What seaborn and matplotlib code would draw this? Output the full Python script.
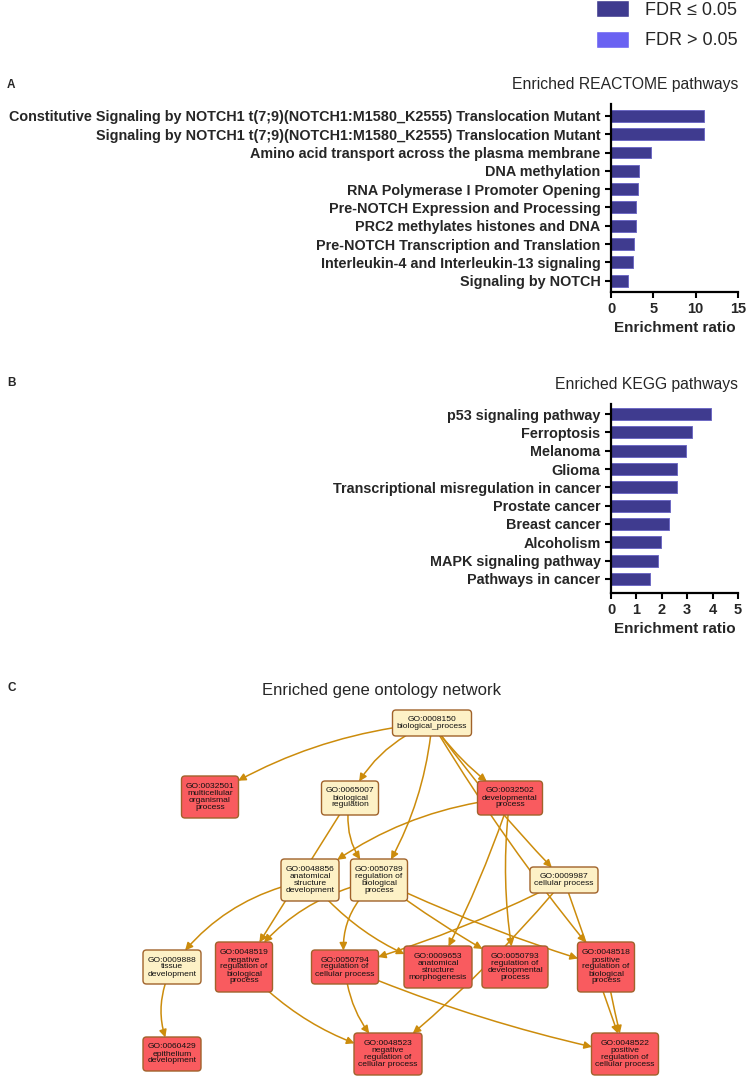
import matplotlib
matplotlib.use('Agg')
import matplotlib.pyplot as plt
from matplotlib.patches import FancyBboxPatch, FancyArrowPatch, Patch
import seaborn as sns
import pandas as pd

# ---- data ----
reactome_terms = [
    'Constitutive Signaling by NOTCH1 t(7;9)(NOTCH1:M1580_K2555) Translocation Mutant',
    'Signaling by NOTCH1 t(7;9)(NOTCH1:M1580_K2555) Translocation Mutant',
    'Amino acid transport across the plasma membrane',
    'DNA methylation',
    'RNA Polymerase I Promoter Opening',
    'Pre-NOTCH Expression and Processing',
    'PRC2 methylates histones and DNA',
    'Pre-NOTCH Transcription and Translation',
    'Interleukin-4 and Interleukin-13 signaling',
    'Signaling by NOTCH',
]
reactome_ratio = [11.0, 11.0, 4.67, 3.30, 3.14, 2.94, 2.90, 2.75, 2.55, 2.0]

kegg_terms = [
    'p53 signaling pathway',
    'Ferroptosis',
    'Melanoma',
    'Glioma',
    'Transcriptional misregulation in cancer',
    'Prostate cancer',
    'Breast cancer',
    'Alcoholism',
    'MAPK signaling pathway',
    'Pathways in cancer',
]
kegg_ratio = [3.93, 3.19, 2.96, 2.59, 2.59, 2.33, 2.30, 1.96, 1.87, 1.53]

go_ids = ['GO:0008150', 'GO:0032501', 'GO:0065007', 'GO:0032502', 'GO:0048856',
          'GO:0050789', 'GO:0009987', 'GO:0009888', 'GO:0048519', 'GO:0050794',
          'GO:0009653', 'GO:0050793', 'GO:0048518', 'GO:0060429', 'GO:0048523',
          'GO:0048522']
go_names = ['biological_process', 'multicellular\norganismal\nprocess',
            'biological\nregulation', 'developmental\nprocess',
            'anatomical\nstructure\ndevelopment', 'regulation of\nbiological\nprocess',
            'cellular process', 'tissue\ndevelopment',
            'negative\nregulation of\nbiological\nprocess',
            'regulation of\ncellular process',
            'anatomical\nstructure\nmorphogenesis',
            'regulation of\ndevelopmental\nprocess',
            'positive\nregulation of\nbiological\nprocess',
            'epithelium\ndevelopment',
            'negative\nregulation of\ncellular process',
            'positive\nregulation of\ncellular process']
go_enriched = [False, True, False, True, False, False, False, False, True, True,
               True, True, True, True, True, True]
go_edges = [
    ('GO:0008150', 'GO:0032501'), ('GO:0008150', 'GO:0065007'),
    ('GO:0008150', 'GO:0050789'), ('GO:0008150', 'GO:0032502'),
    ('GO:0008150', 'GO:0009987'), ('GO:0008150', 'GO:0048518'),
    ('GO:0065007', 'GO:0050789'), ('GO:0065007', 'GO:0048519'),
    ('GO:0032502', 'GO:0048856'), ('GO:0032502', 'GO:0009653'),
    ('GO:0032502', 'GO:0050793'), ('GO:0048856', 'GO:0009888'),
    ('GO:0048856', 'GO:0009653'), ('GO:0050789', 'GO:0048519'),
    ('GO:0050789', 'GO:0050794'), ('GO:0050789', 'GO:0050793'),
    ('GO:0050789', 'GO:0048518'), ('GO:0009987', 'GO:0050794'),
    ('GO:0009987', 'GO:0048523'), ('GO:0009987', 'GO:0048522'),
    ('GO:0009888', 'GO:0060429'), ('GO:0048519', 'GO:0048523'),
    ('GO:0050794', 'GO:0048523'), ('GO:0050794', 'GO:0048522'),
    ('GO:0048518', 'GO:0048522'),
]

# ---- layout (pixels) ----
W, H = 747, 1076
node_xy = {
    'GO:0008150': (432, 723), 'GO:0032501': (210, 797), 'GO:0065007': (350, 798),
    'GO:0032502': (510, 798), 'GO:0048856': (310, 880), 'GO:0050789': (379, 880),
    'GO:0009987': (564, 880), 'GO:0009888': (172, 967), 'GO:0048519': (244, 967),
    'GO:0050794': (345, 967), 'GO:0009653': (438, 967), 'GO:0050793': (515, 967),
    'GO:0048518': (606, 967), 'GO:0060429': (172, 1054), 'GO:0048523': (388, 1054),
    'GO:0048522': (625, 1054),
}
node_w = {
    'GO:0008150': 79, 'GO:0032501': 57, 'GO:0065007': 57, 'GO:0032502': 65,
    'GO:0048856': 58, 'GO:0050789': 57, 'GO:0009987': 68, 'GO:0009888': 58,
    'GO:0048519': 57, 'GO:0050794': 67, 'GO:0009653': 68, 'GO:0050793': 66,
    'GO:0048518': 57, 'GO:0060429': 58, 'GO:0048523': 68, 'GO:0048522': 67,
}
edge_rad = [0.12, 0.2, -0.12, 0.1, 0.04, 0.04, 0.3, 0.0, 0.15, -0.04, 0.08,
            0.2, 0.15, 0.2, 0.3, 0.04, 0.04, -0.05, -0.05, 0.0, 0.25, 0.15,
            0.2, 0.05, 0.02]

DARK = '#3f3b8f'
LIGHT = '#6a62f2'
EDGE_COL = '#cc8c0c'

sns.set_style('ticks')
plt.rcParams['font.family'] = ['Liberation Sans', 'DejaVu Sans']

fig = plt.figure(figsize=(W / 100, H / 100), dpi=100)

# overlay axes in pixel coordinates for the network and loose text
ov = fig.add_axes([0, 0, 1, 1])
ov.set_xlim(0, W)
ov.set_ylim(H, 0)
ov.axis('off')


def px_rect(left, top, right, bottom):
    return [left / W, 1 - bottom / H, (right - left) / W, (bottom - top) / H]


def bar_panel(rect, terms, ratios, xmax, step, ylim):
    ax = fig.add_axes(rect)
    df = pd.DataFrame({'term': terms, 'ratio': ratios})
    sns.barplot(data=df, x='ratio', y='term', orient='h', color=DARK,
                saturation=1, width=0.65, edgecolor='#6e6ac4', linewidth=0.7,
                ax=ax)
    ax.set_xlim(0, xmax)
    ax.set_xticks(list(range(0, xmax + 1, step)))
    ax.set_ylim(*ylim)
    sns.despine(ax=ax)
    for s in ['left', 'bottom']:
        ax.spines[s].set_linewidth(1.6)
        ax.spines[s].set_color('black')
    ax.tick_params(axis='both', direction='out', length=4.5, width=1.5,
                   color='black')
    ax.tick_params(axis='y', pad=3)
    ax.tick_params(axis='x', pad=3)
    for t in ax.get_yticklabels():
        t.set_fontweight('bold')
        t.set_fontsize(10.4)
    for t in ax.get_xticklabels():
        t.set_fontweight('bold')
        t.set_fontsize(10.5)
    ax.set_ylabel('')
    ax.set_xlabel('Enrichment ratio', fontsize=11, fontweight='bold', labelpad=3)
    return ax


bar_panel(px_rect(611, 104, 738, 292), reactome_terms, reactome_ratio, 15, 5,
          (9.62, -0.65))
bar_panel(px_rect(611, 404, 738, 593), kegg_terms, kegg_ratio, 5, 1,
          (9.77, -0.55))

# titles and panel letters
ov.text(738, 84, 'Enriched REACTOME pathways', ha='right', va='center', fontsize=11.3)
ov.text(738, 384, 'Enriched KEGG pathways', ha='right', va='center', fontsize=11.3)
ov.text(381, 690, 'Enriched gene ontology network', ha='center', va='center',
        fontsize=12)
for letter, y in [('A', 85), ('B', 383), ('C', 688)]:
    ov.text(7, y, letter, ha='left', va='center', fontsize=8.5, fontweight='bold')

# legend
fig.legend(handles=[Patch(facecolor=DARK, label='FDR \u2264 0.05'),
                    Patch(facecolor=LIGHT, label='FDR > 0.05')],
           loc='upper left', bbox_to_anchor=(596 / W, 1 - 0 / H),
           frameon=False, fontsize=13, handlelength=1.85, handleheight=1.1,
           handletextpad=0.85, labelspacing=0.65, borderpad=0, borderaxespad=0)

# network nodes
boxes = {}
for gid, name, sig in zip(go_ids, go_names, go_enriched):
    cx, cy = node_xy[gid]
    nlines = name.count('\n') + 2
    h = 8 * nlines + 10
    w = node_w[gid]
    box = FancyBboxPatch((cx - w / 2, cy - h / 2), w, h,
                         boxstyle='round,pad=0,rounding_size=3.5',
                         facecolor='#f95b5f' if sig else '#fdf1c6',
                         edgecolor='#a0622a', linewidth=1.0, zorder=3)
    ov.add_patch(box)
    boxes[gid] = box
    ov.text(cx, cy, gid + '\n' + name, ha='center', va='center', fontsize=6.1,
            linespacing=1.0, color='#111111', zorder=4)

# network edges
for (src, dst), rad in zip(go_edges, edge_rad):
    arr = FancyArrowPatch(node_xy[src], node_xy[dst],
                          patchA=boxes[src], patchB=boxes[dst],
                          connectionstyle=f'arc3,rad={rad}',
                          arrowstyle='-|>,head_length=0.45,head_width=0.22',
                          mutation_scale=10, color=EDGE_COL, linewidth=1.1,
                          shrinkA=0, shrinkB=0, zorder=2)
    ov.add_patch(arr)

fig.savefig('out.png', dpi=100)
